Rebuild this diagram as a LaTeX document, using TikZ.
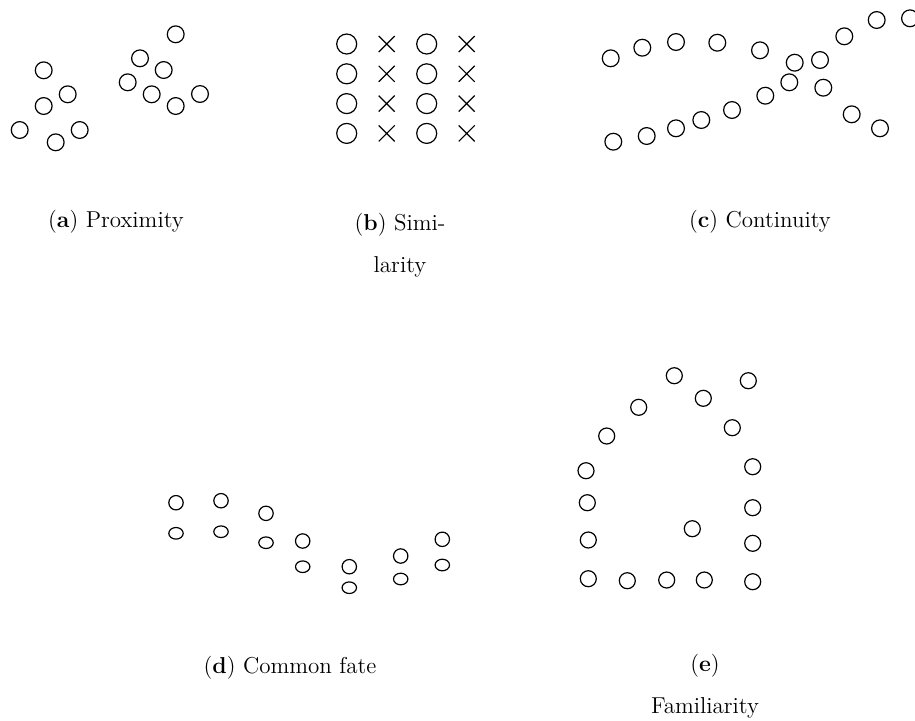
\documentclass[tikz,border=0pt]{standalone}
\usetikzlibrary{shapes.geometric, shapes.misc}

\begin{document}
\begin{tikzpicture}[x=0.5pt, y=-0.5pt, line width=0.6pt,
  ring/.style={circle, draw, inner sep=0pt, minimum size=8.4pt},
  bigring/.style={circle, draw, inner sep=0pt, minimum size=10pt},
  smallring/.style={circle, draw, inner sep=0pt, minimum size=7.2pt},
  flatring/.style={ellipse, draw, inner sep=0pt, minimum width=7.2pt, minimum height=5.8pt},
  xmark/.style={cross out, draw, inner sep=0pt, minimum size=7.4pt},
  subcap/.style={font=\fontsize{11.5}{21}\selectfont, align=center, anchor=base, inner sep=0pt}]
  \useasboundingbox (0,0) rectangle (915,720);

  % (a) two clusters
  \foreach \x/\y [count=\i] in {43.7/70.3, 67.7/94.3, 43.7/106, 19.7/130, 55.7/142.3, 79.7/130,
      175.7/34.3, 140/58.3, 163.7/70, 127.7/82.3, 151.7/94.3, 175.7/106, 200/94}
    \node[ring] (prox\i) at (\x,\y) {};

  % (b) columns of circles and crosses
  \foreach \r in {0,...,3} {
    \node[bigring] (simA\r) at (346.7,44+29.8*\r) {};
    \node[xmark]   (simB\r) at (386.7,44+29.8*\r) {};
    \node[bigring] (simC\r) at (426.7,44+29.8*\r) {};
    \node[xmark]   (simD\r) at (466.7,44+29.8*\r) {};
  }

  % (c) two crossing curves
  \foreach \x/\y [count=\i] in {610.7/58.3, 642.3/47.7, 676/42, 717.3/42.7, 760/50.3,
      794.7/62.7, 820/60, 844.3/36.3, 876.7/20, 910/18.3}
    \node[ring] (contA\i) at (\x,\y) {};
  \foreach \x/\y [count=\i] in {613.3/141.7, 646.7/136, 676/128.3, 701.3/120, 732/110,
      765.3/95.7, 789.3/82.3, 823.3/87.7, 851.7/114.3, 880/128.3}
    \node[ring] (contB\i) at (\x,\y) {};

  % (d) pairs moving together
  \foreach \x/\ya/\yb [count=\i] in {176/502.7/533.3, 221/500.7/531.7, 266/513.3/542.7,
      302.7/541/566.7, 349.3/566.7/587.7, 400.7/556/579, 442.3/539.3/565} {
    \node[smallring] (fateA\i) at (\x,\ya) {};
    \node[flatring]  (fateB\i) at (\x,\yb) {};
  }

  % (e) house outline
  \foreach \x/\y [count=\i] in {674.3/375.7, 748.3/380.7, 703.3/398.3, 638.7/407.3, 732.3/427.7,
      606.7/436, 586/470.7, 752.7/466.7, 587.3/502.7, 752.7/507.7, 692.3/528.7, 588.3/540,
      752.7/543.3, 588.3/578.7, 627.3/580.7, 666.7/580, 704.3/580, 752.7/581.7}
    \node[ring, minimum size=8pt] (fam\i) at (\x,\y) {};

  % captions (base sits on the last line)
  \node[subcap] (capa) at (116,227) {(\textbf{a}) Proximity};
  \node[subcap] (capb) at (400,272) {(\textbf{b}) Simi-\\larity};
  \node[subcap] (capc) at (760,227) {(\textbf{c}) Continuity};
  \node[subcap] (capd) at (290,673) {(\textbf{d}) Common fate};
  \node[subcap] (cape) at (705,713) {(\textbf{e})\\Familiarity};
\end{tikzpicture}
\end{document}
